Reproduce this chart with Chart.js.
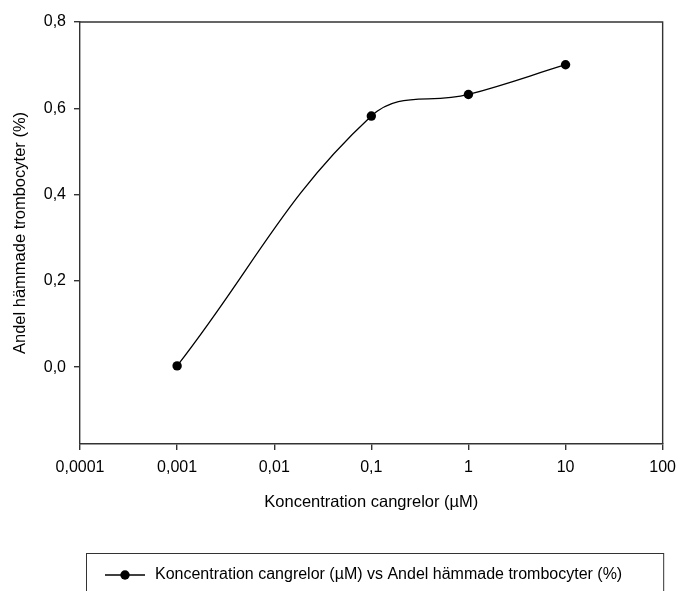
<!DOCTYPE html>
<html>
<head>
<meta charset="utf-8">
<title>Andel hämmade trombocyter</title>
<script src="https://cdn.jsdelivr.net/npm/chart.js@4.4.1/dist/chart.umd.min.js"></script>
<style>
  html, body { margin: 0; padding: 0; background: #fff; }
  #chart { display: block; }
</style>
</head>
<body>
<canvas id="chart" width="684" height="591"></canvas>
<script>
// values
const concentrations = [0.001, 0.1, 1, 10];
const inhibited = [0.003, 0.582, 0.632, 0.701];
const xTicks = [0.0001, 0.001, 0.01, 0.1, 1, 10, 100];
const xTickLabels = ["0,0001", "0,001", "0,01", "0,1", "1", "10", "100"];
const yTicks = [0, 0.2, 0.4, 0.6, 0.8];
const yTickLabels = ["0,0", "0,2", "0,4", "0,6", "0,8"];
const seriesLabel = "Koncentration cangrelor (µM) vs Andel hämmade trombocyter (%)";

const FONT = '"Liberation Sans", Arial, sans-serif';
const AXIS = "#333";
const AXIS_W = 1.4;

// top + right border of the plot frame
const framePlugin = {
  id: "frame",
  afterDraw(chart) {
    const { ctx, chartArea: a } = chart;
    ctx.save();
    ctx.strokeStyle = AXIS;
    ctx.lineWidth = AXIS_W;
    ctx.beginPath();
    ctx.moveTo(a.left, a.top);
    ctx.lineTo(a.right, a.top);
    ctx.lineTo(a.right, a.bottom);
    ctx.stroke();
    ctx.restore();
  }
};

// boxed legend under the x axis title
const boxLegend = {
  id: "boxLegend",
  afterDraw(chart) {
    const ctx = chart.ctx;
    const ds = chart.data.datasets[0];
    ctx.save();
    ctx.font = "16px " + FONT;
    const tw = ctx.measureText(ds.label).width;
    const left = 86, top = 553, midY = 575;
    const lineStart = 105, lineEnd = 145, textX = 155;
    ctx.strokeStyle = AXIS;
    ctx.lineWidth = 1;
    ctx.strokeRect(left + 0.5, top + 0.5, textX + tw + 41 - left, 60);

    ctx.strokeStyle = ds.borderColor;
    ctx.lineWidth = ds.borderWidth;
    ctx.beginPath();
    ctx.moveTo(lineStart, midY);
    ctx.lineTo(lineEnd, midY);
    ctx.stroke();
    ctx.fillStyle = ds.pointBackgroundColor;
    ctx.beginPath();
    ctx.arc((lineStart + lineEnd) / 2, midY, ds.pointRadius, 0, Math.PI * 2);
    ctx.fill();

    ctx.fillStyle = "#000";
    ctx.textBaseline = "middle";
    ctx.fillText(ds.label, textX, midY);
    ctx.restore();
  }
};

new Chart(document.getElementById("chart"), {
  type: "line",
  data: {
    datasets: [{
      label: seriesLabel,
      data: concentrations.map((c, i) => ({ x: c, y: inhibited[i] })),
      borderColor: "#000",
      borderWidth: 1.3,
      tension: 0.4,
      pointRadius: 4.7,
      pointBackgroundColor: "#000",
      pointBorderWidth: 0,
      fill: false
    }]
  },
  options: {
    responsive: false,
    animation: false,
    devicePixelRatio: 1,
    layout: { padding: { left: 0, right: 14, top: 22, bottom: 0 } },
    plugins: {
      legend: { display: false },
      tooltip: { enabled: false }
    },
    scales: {
      x: {
        type: "logarithmic",
        min: 0.0001,
        max: 100,
        afterBuildTicks: s => { s.ticks = xTicks.map(v => ({ value: v })); },
        afterFit: s => { s.height = 147; },
        ticks: {
          autoSkip: false,
          maxRotation: 0,
          padding: 8,
          color: "#000",
          font: { family: FONT, size: 16 },
          callback: v => xTickLabels[xTicks.indexOf(v)]
        },
        grid: { drawOnChartArea: false, drawTicks: true, tickLength: 6, color: AXIS, lineWidth: AXIS_W },
        border: { display: true, color: AXIS, width: AXIS_W },
        title: {
          display: true,
          text: "Koncentration cangrelor (µM)",
          color: "#000",
          font: { family: FONT, size: 16.5 },
          padding: { top: 0, bottom: 79 }
        }
      },
      y: {
        type: "linear",
        min: -0.178,
        max: 0.8,
        afterBuildTicks: s => { s.ticks = yTicks.map(v => ({ value: v })); },
        afterFit: s => { s.width = 80; },
        ticks: {
          padding: 8,
          color: "#000",
          font: { family: FONT, size: 16 },
          callback: v => yTickLabels[yTicks.indexOf(v)]
        },
        grid: { drawOnChartArea: false, drawTicks: true, tickLength: 6, color: AXIS, lineWidth: AXIS_W },
        border: { display: true, color: AXIS, width: AXIS_W },
        title: {
          display: true,
          text: "Andel hämmade trombocyter (%)",
          color: "#000",
          font: { family: FONT, size: 16.5 },
          padding: { top: 11, bottom: 0 }
        }
      }
    }
  },
  plugins: [framePlugin, boxLegend]
});
</script>
</body>
</html>
